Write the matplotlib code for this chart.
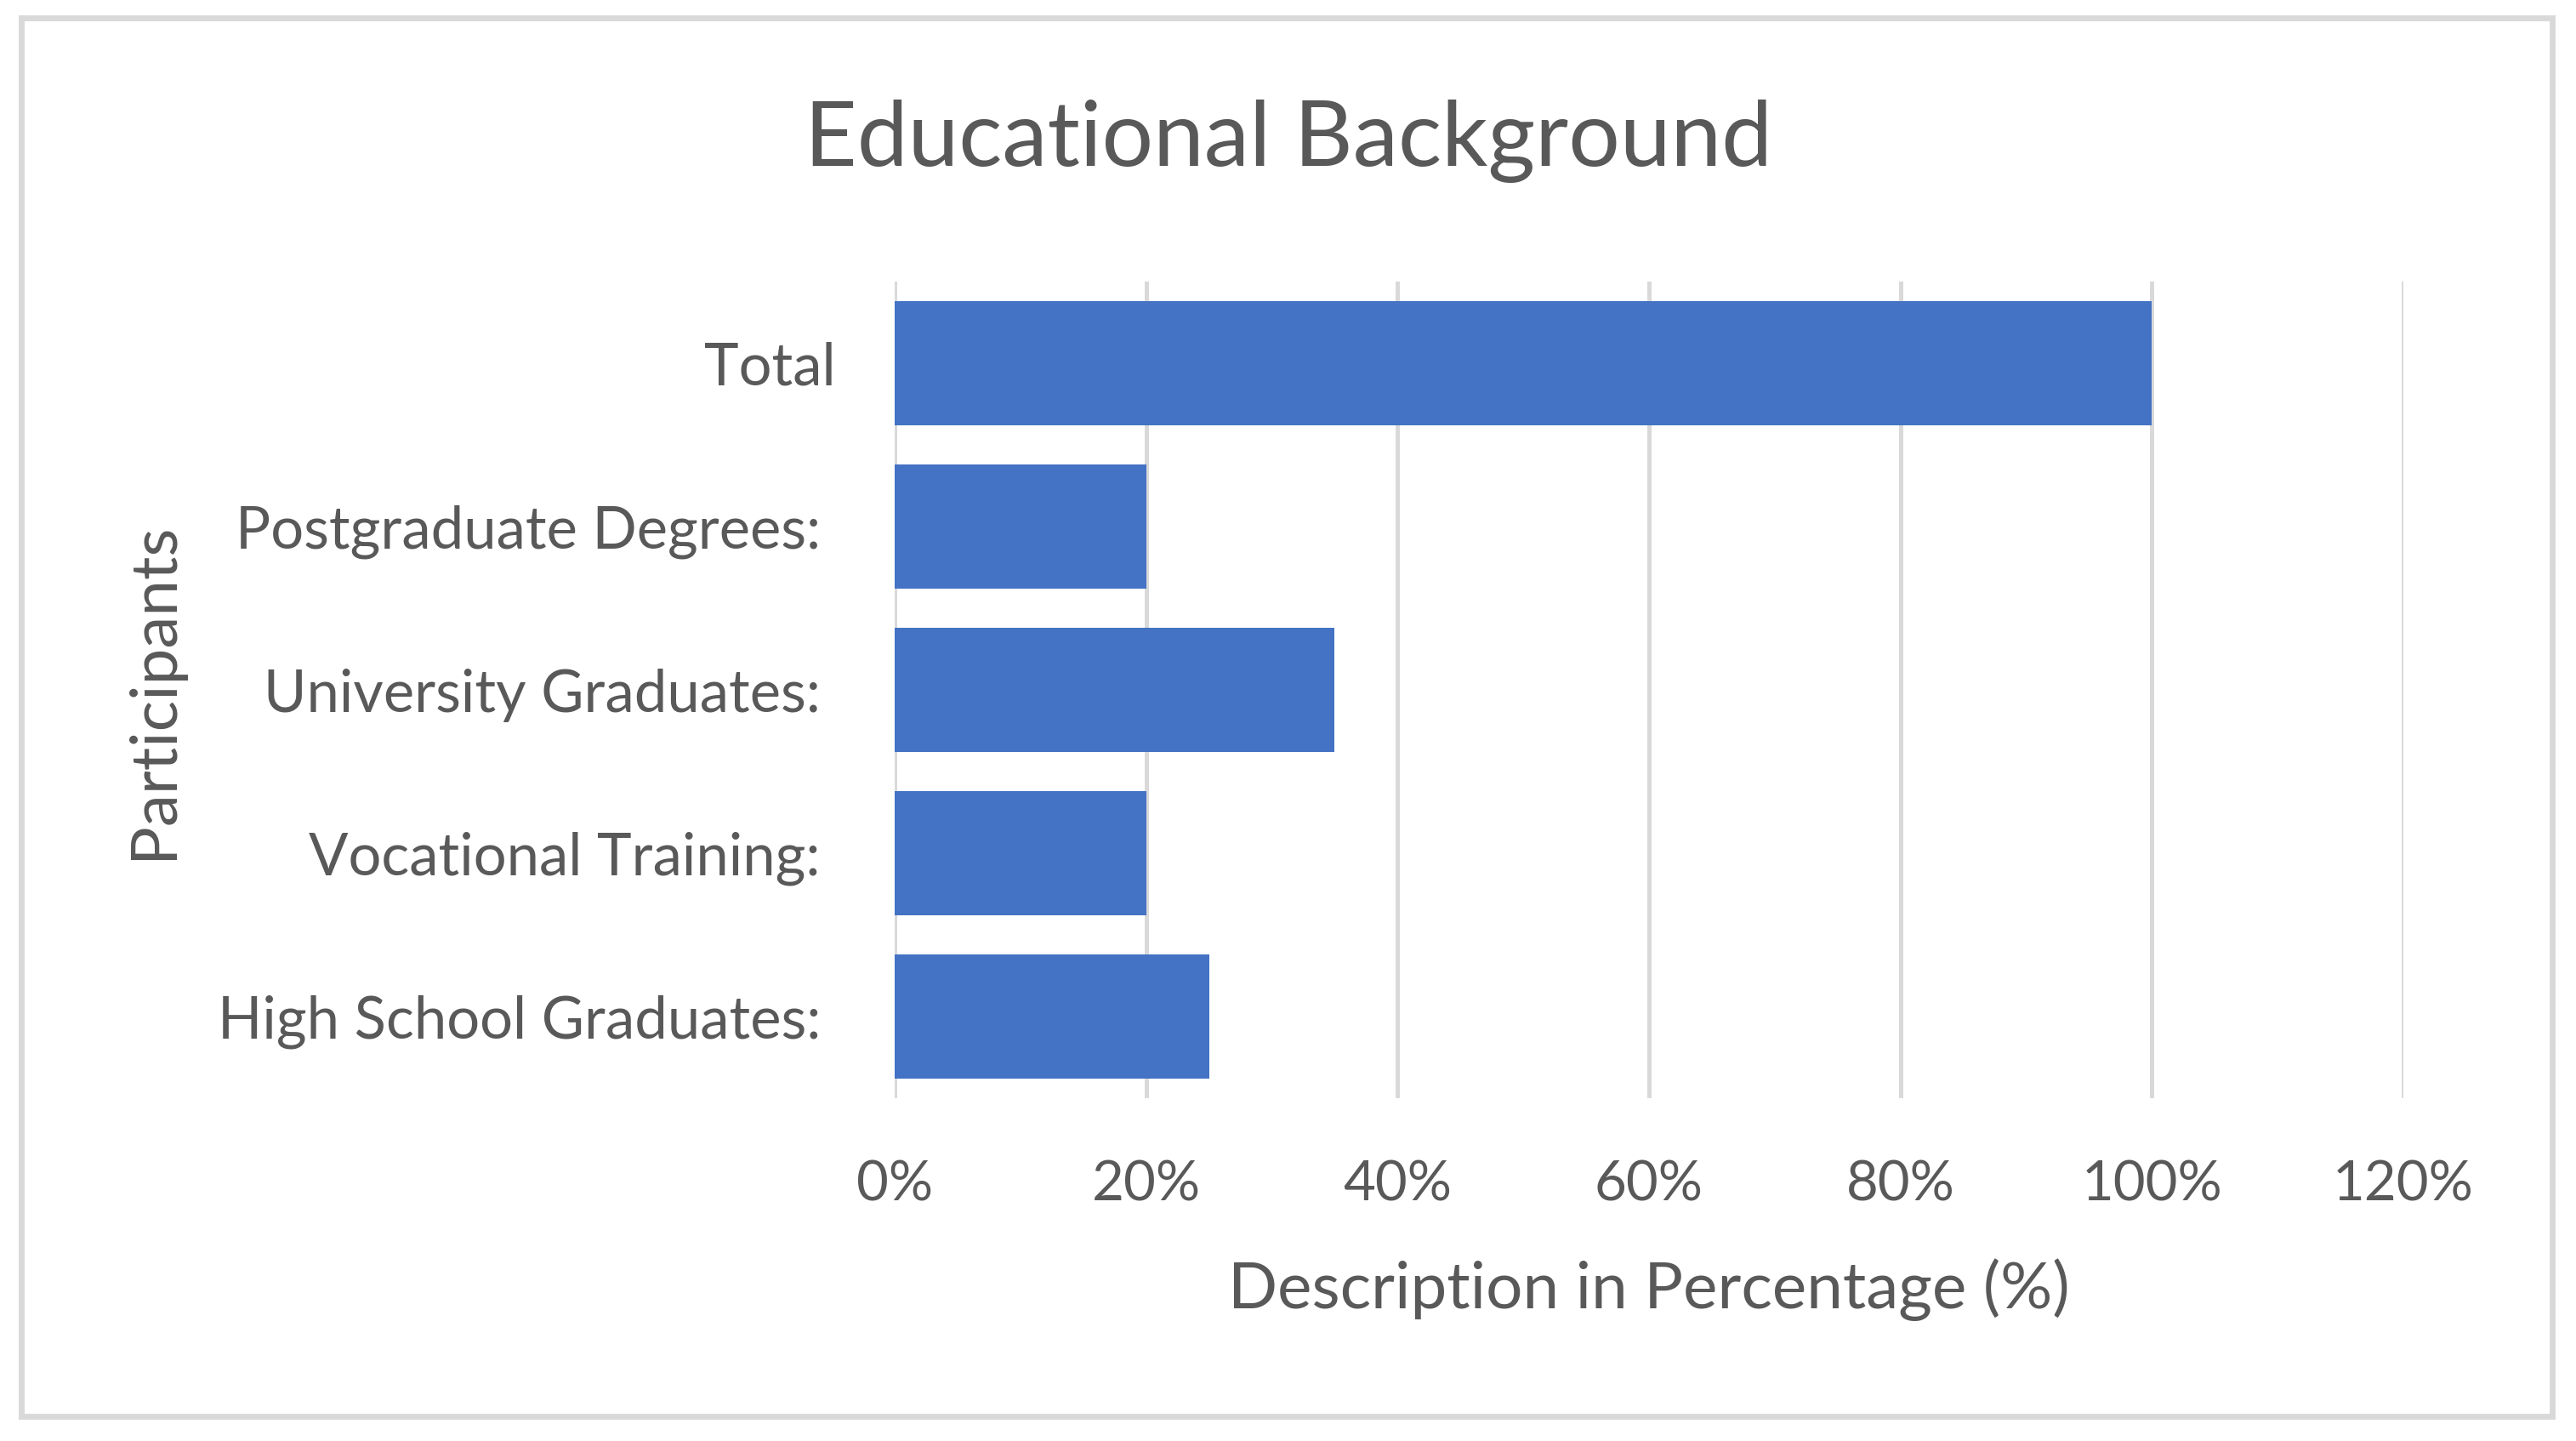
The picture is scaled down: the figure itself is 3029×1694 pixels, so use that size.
import matplotlib.pyplot as plt
from matplotlib.patches import Rectangle
from matplotlib.ticker import PercentFormatter

# Categories listed bottom-to-top, as the bar chart draws them.
categories = ["High School Graduates: ", "Vocational Training: ", "University Graduates: ",
              "Postgraduate Degrees: ", "Total"]
shares = [0.25, 0.20, 0.35, 0.20, 1.00]
x_ticks = [0.0, 0.2, 0.4, 0.6, 0.8, 1.0, 1.2]

title = "Educational Background"
x_title = "Description in Percentage (%)"
y_title = "Participants"

bar_color = "#4472C4"
text_color = "#595959"
grid_color = "#D9D9D9"

plt.rcParams["font.family"] = ["Lato", "DejaVu Sans"]

W, H = 3029, 1694
fig = plt.figure(figsize=(W / 100, H / 100), dpi=100)
fig.patch.set_facecolor("white")

# Plot area placed in pixel terms, converted to figure fractions.
left, right, top, bottom = 1052, 2826, 331, 1291
ax = fig.add_axes([left / W, 1 - bottom / H, (right - left) / W, (bottom - top) / H])

ax.barh(range(len(categories)), shares, height=0.76, color=bar_color, zorder=3)

ax.set_xlim(0, 1.2)
ax.set_ylim(-0.5, len(categories) - 0.5)
ax.set_xticks(x_ticks)
ax.xaxis.set_major_formatter(PercentFormatter(1.0, decimals=0))
ax.set_yticks(range(len(categories)))
ax.set_yticklabels(categories)

ax.grid(axis="x", color=grid_color, linewidth=3.6, zorder=0)
ax.set_axisbelow(True)
for s in ax.spines.values():
  s.set_visible(False)

ax.tick_params(axis="x", length=0, pad=52, labelsize=47, labelcolor=text_color)
ax.tick_params(axis="y", length=0, pad=50, labelsize=49.5, labelcolor=text_color)

# Chart title and axis titles.
fig.text(0.5, 1 - 195 / H, title, ha="center", va="baseline", fontsize=77, color=text_color)
fig.text((left + right) / 2 / W, 1 - 1538 / H, x_title, ha="center", va="baseline",
         fontsize=55, color=text_color)
fig.text(180 / W, 1 - 812 / H, y_title, ha="center", va="center", rotation=90,
         fontsize=55, color=text_color)

# Light grey frame around the whole chart.
fig.patches.append(Rectangle((24.5 / W, 1 - 1664.5 / H), (3001 - 24.5) / W, (1664.5 - 21.5) / H,
                             transform=fig.transFigure, fill=False, edgecolor=grid_color,
                             linewidth=5, zorder=0))

fig.savefig("out.png", dpi=100, facecolor="white")
